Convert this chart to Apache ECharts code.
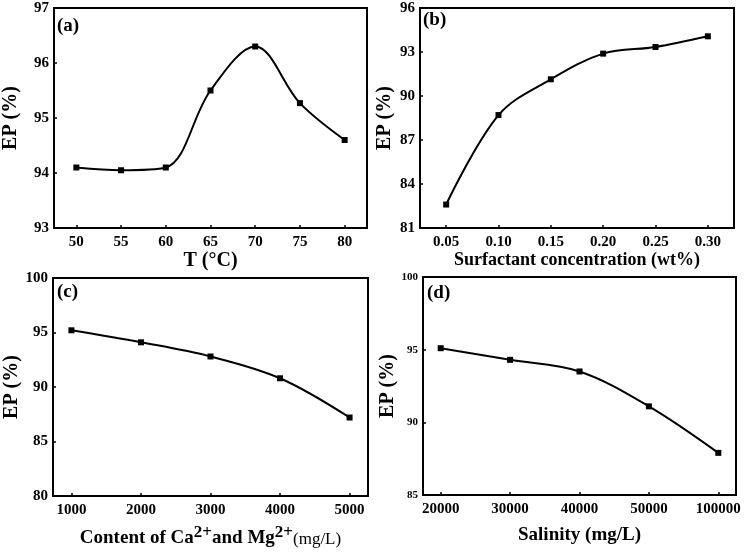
<!DOCTYPE html>
<html><head><meta charset="utf-8">
<script src="https://cdn.jsdelivr.net/npm/echarts@6/dist/echarts.min.js"></script>
<style>html,body{margin:0;padding:0;background:#fff}#c{width:756px;height:557px}</style>
</head><body><div id="c"></div>
<script>
// Panel (a): temperature
const tempX = [50, 55, 60, 65, 70, 75, 80];
const tempEP = [94.1, 94.05, 94.1, 95.5, 96.3, 95.27, 94.6];
// Panel (b): surfactant concentration
const surfX = [0.05, 0.10, 0.15, 0.20, 0.25, 0.30];
const surfEP = [82.6, 88.7, 91.14, 92.89, 93.34, 94.07];
// Panel (c): Ca2+ and Mg2+ content
const caMgX = [1000, 2000, 3000, 4000, 5000];
const caMgEP = [95.2, 94.1, 92.8, 90.8, 87.2];
// Panel (d): salinity (evenly spaced categories)
const salinityLabels = ['20000', '30000', '40000', '50000', '100000'];
const salinityEP = [95.1, 94.3, 93.5, 91.1, 87.9];

const F = '"Liberation Serif","Times New Roman",serif';
const chart = echarts.init(document.getElementById('c'));

const grids = [
  {left: 52, top: 8, width: 315, height: 220},
  {left: 420, top: 8, width: 314, height: 220},
  {left: 53, top: 278, width: 315, height: 218},
  {left: 423, top: 277, width: 313, height: 218}
].map(g => Object.assign({show: true, borderColor: '#000', borderWidth: 2, backgroundColor: 'transparent'}, g));

const tick = vals => ({show: true, inside: true, length: 3, lineStyle: {color: '#000', width: 1.5}, customValues: vals});
const lab = (vals, fmt, size) => ({color: '#000', fontFamily: F, fontWeight: 'bold', fontSize: size || 15, margin: 7,
  customValues: vals, formatter: fmt});

function xAx(i, o) {
  return Object.assign({
    gridIndex: i, type: 'value', nameLocation: 'middle',
    axisLine: {show: true, onZero: false, lineStyle: {color: '#000', width: 2}},
    splitLine: {show: false},
    nameTextStyle: {color: '#000', fontFamily: F, fontWeight: 'bold', fontSize: 18}
  }, o);
}
function yAx(i, o) {
  return Object.assign({
    gridIndex: i, type: 'value', name: 'EP (%)', nameLocation: 'middle', nameRotate: 90,
    axisLine: {show: true, onZero: false, lineStyle: {color: '#000', width: 2}},
    axisTick: {show: true, inside: true, length: 3, lineStyle: {color: '#000', width: 1.5}},
    axisLabel: {color: '#000', fontFamily: F, fontWeight: 'bold', fontSize: 15, margin: 5},
    splitLine: {show: false},
    nameTextStyle: {color: '#000', fontFamily: F, fontWeight: 'bold', fontSize: 20}
  }, o);
}

const option = {
  animation: false,
  backgroundColor: '#fff',
  grid: grids,
  xAxis: [
    xAx(0, {min: 47.5, max: 82.5, axisLabel: lab(tempX, v => String(v)), axisTick: tick(tempX),
      name: 'T (°C)', nameGap: 21, nameTextStyle: {color: '#000', fontFamily: F, fontWeight: 'bold', fontSize: 20}}),
    xAx(1, {min: 0.025, max: 0.325, axisLabel: lab(surfX, v => v.toFixed(2)), axisTick: tick(surfX),
      name: 'Surfactant concentration (wt%)', nameGap: 23}),
    xAx(2, {min: 735, max: 5265, axisLabel: lab(caMgX, v => String(v)), axisTick: tick(caMgX),
      name: '{b|Content of Ca}{s|2+}{b|and Mg}{s|2+}{n|(mg/L)}', nameGap: 28,
      nameTextStyle: {color: '#000', fontFamily: F, fontWeight: 'bold', fontSize: 19,
        rich: {
          b: {fontFamily: F, fontWeight: 'bold', fontSize: 19, color: '#000', verticalAlign: 'bottom', lineHeight: 24},
          s: {fontFamily: F, fontWeight: 'bold', fontSize: 17, color: '#000', verticalAlign: 'top', lineHeight: 24, padding: [0, 0, 8, 0]},
          n: {fontFamily: F, fontWeight: 'normal', fontSize: 17, color: '#000', verticalAlign: 'bottom', lineHeight: 24}
        }}}),
    xAx(3, {min: -0.255, max: 4.255, axisLabel: lab([0, 1, 2, 3, 4], v => salinityLabels[Math.round(v)]),
      axisTick: tick([0, 1, 2, 3, 4]), name: 'Salinity (mg/L)', nameGap: 31,
      nameTextStyle: {color: '#000', fontFamily: F, fontWeight: 'bold', fontSize: 19}})
  ],
  yAxis: [
    yAx(0, {min: 93, max: 97, interval: 1, nameGap: 33}),
    yAx(1, {min: 81, max: 96, interval: 3, nameGap: 25}),
    yAx(2, {min: 80, max: 100, interval: 5, nameGap: 28}),
    yAx(3, {min: 85, max: 100, interval: 5, nameGap: 23,
      axisLabel: {color: '#000', fontFamily: F, fontWeight: 'bold', fontSize: 11, margin: 5}})
  ],
  graphic: [
    {type: 'text', left: 57, top: 17, style: {text: '(a)', font: 'bold 19px ' + F, fill: '#000'}},
    {type: 'text', left: 423, top: 11, style: {text: '(b)', font: 'bold 19px ' + F, fill: '#000'}},
    {type: 'text', left: 57, top: 283, style: {text: '(c)', font: 'bold 19px ' + F, fill: '#000'}},
    {type: 'text', left: 427, top: 284, style: {text: '(d)', font: 'bold 19px ' + F, fill: '#000'}}
  ],
  series: [
    {data: tempX.map((x, i) => [x, tempEP[i]]), xAxisIndex: 0, yAxisIndex: 0},
    {data: surfX.map((x, i) => [x, surfEP[i]]), xAxisIndex: 1, yAxisIndex: 1},
    {data: caMgX.map((x, i) => [x, caMgEP[i]]), xAxisIndex: 2, yAxisIndex: 2},
    {data: salinityLabels.map((x, i) => [i, salinityEP[i]]), xAxisIndex: 3, yAxisIndex: 3}
  ].map(s => Object.assign({type: 'line', smooth: 0.35, symbol: 'rect', symbolSize: 6,
    lineStyle: {color: '#000', width: 2}, itemStyle: {color: '#000'}}, s))
};
chart.setOption(option);
</script></body></html>
